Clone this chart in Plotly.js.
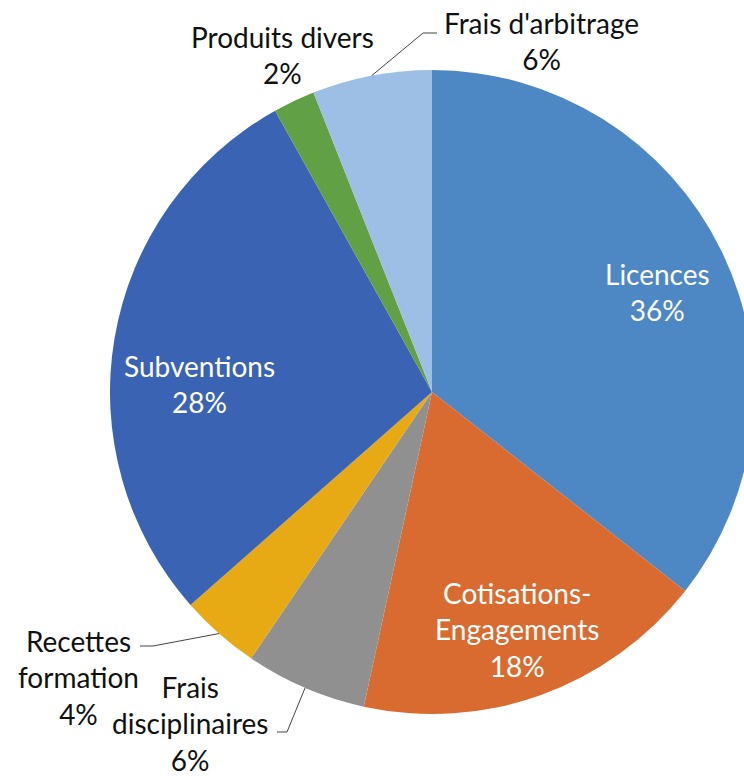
<!DOCTYPE html>
<html>
<head>
<meta charset="utf-8">
<script src="https://cdn.plot.ly/plotly-3.0.1.min.js"></script>
<style>
html,body{margin:0;padding:0;overflow:hidden;background:#fff;}
#chart{width:864px;height:776px;}
</style>
</head>
<body>
<div id="chart"></div>
<script>
var labels = ['Licences', 'Cotisations-<br>Engagements', 'Frais<br>disciplinaires', 'Recettes<br>formation', 'Subventions', 'Produits divers', "Frais d'arbitrage"];
var values = [35.6, 17.8, 6.1, 4.0, 28.4, 2.1, 6.0];
var colors = ['#4d88c5', '#d96b30', '#909090', '#e8aa14', '#3b63b3', '#62a046', '#9ebfe5'];
var labelColors = ['#ffffff', '#ffffff', '#111111', '#111111', '#ffffff', '#111111', '#111111'];

var W = 864, H = 776, ML = 110, MR = 110, MT = 70, MB = 62;
var PW = W - ML - MR, PH = H - MT - MB;
var CX = ML + PW / 2, CY = MT + PH / 2, R = Math.min(PW, PH) / 2;
function px(x) { return (x - ML) / PW; }
function py(y) { return (H - MB - y) / PH; }

var total = values.reduce(function (a, b) { return a + b; }, 0);
var cum = 0, mids = [];
values.forEach(function (v) { mids.push((cum + v / 2) / total * 2 * Math.PI); cum += v; });
function edge(i) { return [CX + R * Math.sin(mids[i]), CY - R * Math.cos(mids[i])]; }
function lab(i) { return labels[i] + '<br>' + Math.round(values[i] / total * 100) + '%'; }

var font = 'Lato, "Open Sans", sans-serif';
var labelPlaces = [
  {i: 0, x: 657, y: 292},
  {i: 1, x: 517, y: 629},
  {i: 4, x: 199, y: 384},
  {i: 6, x: 541, y: 41, elbow: [423, 33], end: [437, 33]},
  {i: 5, x: 282, y: 55},
  {i: 3, x: 78, y: 677, elbow: [153, 646], end: [140, 646]},
  {i: 2, x: 190, y: 723, elbow: [287, 732], end: [277, 732]}
];
var annotations = [], shapes = [];
labelPlaces.forEach(function (o) {
  annotations.push({xref: 'paper', yref: 'paper', x: px(o.x), y: py(o.y), xanchor: 'center', yanchor: 'middle',
    text: lab(o.i), showarrow: false, align: 'center', font: {family: font, size: 28, color: labelColors[o.i]}});
  if (o.elbow) {
    var e = edge(o.i);
    shapes.push({type: 'path', xref: 'paper', yref: 'paper',
      path: 'M' + px(e[0]) + ',' + py(e[1]) + ' L' + px(o.elbow[0]) + ',' + py(o.elbow[1]) + ' L' + px(o.end[0]) + ',' + py(o.end[1]),
      line: {color: '#444', width: 1}});
  }
});

var trace = {
  type: 'pie', labels: labels, values: values, sort: false, direction: 'clockwise', rotation: 0,
  marker: {colors: colors, line: {width: 0}},
  textinfo: 'none', textposition: 'none',
  showlegend: false, hoverinfo: 'label+percent'
};
var layout = {
  width: W, height: H, margin: {l: ML, r: MR, t: MT, b: MB},
  paper_bgcolor: '#ffffff', showlegend: false,
  annotations: annotations, shapes: shapes
};
Plotly.newPlot('chart', [trace], layout, {displayModeBar: false, staticPlot: true});
</script>
</body>
</html>
